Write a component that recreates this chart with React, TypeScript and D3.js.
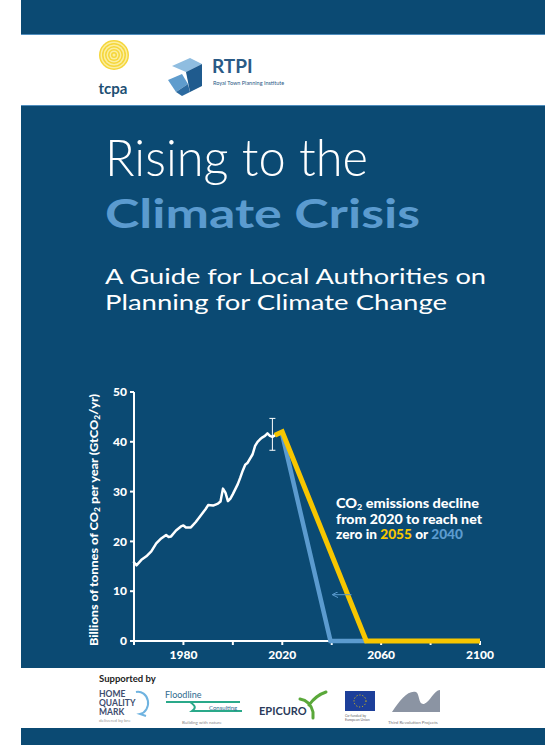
import React from 'react';
import * as d3 from 'd3';

// Historic global CO2 emissions
const histYears = [1960, 1961, 1963, 1965, 1967, 1969, 1971, 1973, 1974, 1975, 1977, 1979, 1980, 1981, 1983, 1985, 1987, 1989, 1990, 1992, 1994, 1995, 1996, 1997, 1998, 1999, 2000, 2002, 2003, 2004, 2005, 2006, 2008, 2009, 2010, 2011, 2012, 2013, 2014, 2015, 2016, 2017];
const histValues = [15.8, 15.2, 16.3, 17.0, 18.0, 19.6, 20.6, 21.3, 20.9, 21.0, 22.2, 23.0, 23.2, 22.8, 22.8, 23.9, 25.2, 26.5, 27.3, 27.2, 27.6, 28.0, 30.6, 29.8, 28.1, 28.6, 29.5, 31.5, 32.8, 34.2, 35.4, 35.8, 37.5, 39.2, 40.0, 40.5, 40.9, 41.2, 41.7, 41.2, 41.0, 41.3];

// Pathways to net zero
const path2055Years = [2017, 2020, 2054, 2100];
const path2055Values = [41.3, 42.0, 0, 0];
const path2040Years = [2020, 2039.5, 2054];
const path2040Values = [41.4, 0, 0];

const errYear = 2016;
const errLow = 38.3;
const errHigh = 44.7;

const arrowYears = [2048, 2040.6];
const arrowValue = 9.3;

const yTicks = [0, 10, 20, 30, 40, 50];
const xTicks = [1960, 1980, 2000, 2020, 2040, 2060, 2080, 2100];
const xLabels = [1980, 2020, 2060, 2100];

const NAVY = '#0b4a73';
const YELLOW = '#f7c600';
const LIGHTBLUE = '#5b9bcf';
const FONT = 'Lato, "DejaVu Sans", sans-serif';

const W = 545;
const H = 745;

const App: React.FC = () => {
  const x = d3.scaleLinear().domain([1960, 2100]).range([134, 480]);
  const y = d3.scaleLinear().domain([0, 50]).range([641, 392]);

  const line = d3.line<[number, number]>()
    .x(d => x(d[0]))
    .y(d => y(d[1]))
    .curve(d3.curveLinear);

  const hist = histYears.map((yr, i) => [yr, histValues[i]] as [number, number]);
  const p2055 = path2055Years.map((yr, i) => [yr, path2055Values[i]] as [number, number]);
  const p2040 = path2040Years.map((yr, i) => [yr, path2040Values[i]] as [number, number]);

  const rings = d3.range(15, 0, -1.5);

  return (
    <div style={{ position: 'absolute', left: 0, top: 0 }}>
      <svg width={W} height={H} style={{ display: 'block' }}>
        <defs>
          <marker id="arrowhead" markerWidth="6" markerHeight="6" refX="5" refY="3" orient="auto" markerUnits="userSpaceOnUse">
            <path d="M0,0 L6,3 L0,6" fill="none" stroke={LIGHTBLUE} strokeWidth={1} />
          </marker>
        </defs>
        <rect x={0} y={0} width={W} height={H} fill="#ffffff" />

        {/* cover bands */}
        <rect x={21} y={0} width={W - 21} height={34} fill={NAVY} />
        <rect x={21} y={34} width={W - 21} height={1} fill="#4f8dbd" />
        <rect x={21} y={106} width={W - 21} height={562} fill={NAVY} />
        <rect x={21} y={105} width={W - 21} height={1} fill="#4f8dbd" />
        <rect x={21} y={728} width={W - 21} height={17} fill={NAVY} />

        {/* tcpa logo */}
        <g>
          {rings.map((r, i) => (
            <circle key={r} cx={114} cy={55} r={r} fill={i % 2 === 0 ? '#f5d63a' : '#fbeea0'} />
          ))}
          <text x={113} y={94} textAnchor="middle" fontFamily={FONT} fontWeight={700} fontSize={15} fill="#1d4f73">tcpa</text>
        </g>

        {/* RTPI logo */}
        <g>
          <polygon points="172,66 190,58 202,64 186,72" fill="#8fbde0" />
          <polygon points="186,72 202,64 202,86 190,92" fill="#1f5b8e" />
          <polygon points="168,80 182,74 188,84 176,92" fill="#5f9ccd" />
          <polygon points="176,92 188,84 190,92 182,96" fill="#2c6aa0" />
          <text x={212} y={73} fontFamily={FONT} fontWeight={700} fontSize={19} fill="#2a5a86">RTPI</text>
          <text x={213} y={85} fontFamily={FONT} fontSize={5.5} fill="#2a5a86">Royal Town Planning Institute</text>
        </g>

        {/* titles */}
        <text x={105} y={176} fontFamily={FONT} fontWeight={300} fontSize={52} fill="#ffffff" textLength={263} lengthAdjust="spacingAndGlyphs">Rising to the</text>
        <text x={105} y={228} fontFamily={FONT} fontWeight={700} fontSize={41} fill={LIGHTBLUE} textLength={315} lengthAdjust="spacingAndGlyphs">Climate Crisis</text>
        <text x={105} y={284} fontFamily={FONT} fontSize={21} fill="#ffffff" textLength={381} lengthAdjust="spacingAndGlyphs">A Guide for Local Authorities on</text>
        <text x={105} y={310} fontFamily={FONT} fontSize={21} fill="#ffffff" textLength={342} lengthAdjust="spacingAndGlyphs">Planning for Climate Change</text>

        {/* axes */}
        <g stroke="#ffffff" strokeWidth={2} fill="none">
          <line x1={x(1960)} x2={x(1960)} y1={y(0)} y2={y(50)} />
          <line x1={x(1960)} x2={x(2100)} y1={y(0)} y2={y(0)} />
          {yTicks.map(t => (
            <line key={t} x1={x(1960) - 4} x2={x(1960)} y1={y(t)} y2={y(t)} />
          ))}
          {xTicks.map(t => (
            <line key={t} x1={x(t)} x2={x(t)} y1={y(0)} y2={y(0) + 4} />
          ))}
        </g>
        <g fontFamily={FONT} fontWeight={900} fontSize={12} fill="#ffffff">
          {yTicks.map(t => (
            <text key={t} x={x(1960) - 7} y={y(t)} dy="0.35em" textAnchor="end">{t}</text>
          ))}
          {xLabels.map(t => (
            <text key={t} x={x(t)} y={y(0) + 18} textAnchor="middle">{t}</text>
          ))}
        </g>
        <text transform="translate(98,520) rotate(-90)" textAnchor="middle" fontFamily={FONT} fontWeight={900} fontSize={10.5} fill="#ffffff" textLength={252} lengthAdjust="spacingAndGlyphs">
          Billions of tonnes of CO<tspan fontSize={7} dy={2}>2</tspan><tspan dy={-2}> per year (GtCO</tspan><tspan fontSize={7} dy={2}>2</tspan><tspan dy={-2}>/yr)</tspan>
        </text>

        {/* data lines */}
        <path d={line(hist) ?? ''} fill="none" stroke="#ffffff" strokeWidth={2.5} strokeLinejoin="round" strokeLinecap="round" />
        <path d={line(p2040) ?? ''} fill="none" stroke={LIGHTBLUE} strokeWidth={4.5} strokeLinejoin="miter" />
        <path d={line(p2055) ?? ''} fill="none" stroke={YELLOW} strokeWidth={5} strokeLinejoin="miter" />

        {/* uncertainty bar */}
        <g stroke="#ffffff" strokeWidth={1}>
          <line x1={x(errYear)} x2={x(errYear)} y1={y(errLow)} y2={y(errHigh)} />
          <line x1={x(errYear) - 3} x2={x(errYear) + 3} y1={y(errLow)} y2={y(errLow)} />
          <line x1={x(errYear) - 3} x2={x(errYear) + 3} y1={y(errHigh)} y2={y(errHigh)} />
        </g>

        {/* shift arrow */}
        <line x1={x(arrowYears[0])} x2={x(arrowYears[1])} y1={y(arrowValue)} y2={y(arrowValue)} stroke={LIGHTBLUE} strokeWidth={1} markerEnd="url(#arrowhead)" />

        {/* annotation */}
        <g fontFamily={FONT} fontWeight={900} fontSize={13} fill="#ffffff">
          <text x={336} y={508} textLength={143} lengthAdjust="spacingAndGlyphs">CO<tspan fontSize={8} dy={2}>2</tspan><tspan dy={-2}> emissions decline</tspan></text>
          <text x={336} y={524} textLength={146} lengthAdjust="spacingAndGlyphs">from 2020 to reach net</text>
          <text x={336} y={539} textLength={127} lengthAdjust="spacingAndGlyphs">zero in <tspan fill={YELLOW}>2055</tspan> or <tspan fill={LIGHTBLUE}>2040</tspan></text>
        </g>

        {/* supporters strip */}
        <g fontFamily={FONT}>
          <text x={99} y={682} fontSize={9.5} fontWeight={700} fill="#222">Supported by</text>
          <g fontSize={8.5} fontWeight={700} fill="#3d4d6e">
            <text x={99} y={697}>HOME</text>
            <text x={99} y={706}>QUALITY</text>
            <text x={99} y={715}>MARK</text>
          </g>
          <path d="M136,692 A9,10 0 1 1 140,714 L146,716" fill="none" stroke="#6fb3e0" strokeWidth={2} />
          <text x={99} y={722} fontSize={4.5} fill="#999">delivered by bre</text>

          <text x={165} y={698} fontSize={9} fill="#2f6b8f">Floodline</text>
          <path d="M166,702 L240,702 M190,702 C196,706 196,708 192,711 L242,711" fill="none" stroke="#2aa98a" strokeWidth={2} />
          <text x={209} y={710} fontSize={6} fill="#2f6b8f">Consulting</text>
          <text x={182} y={724} fontSize={4.5} fill="#888">Building with nature</text>

          <text x={259} y={715} fontSize={11} fontWeight={700} fill="#2a3a5a">EPICURO</text>
          <path d="M309,705 C314,698 320,694 326,692 M313,712 C311,704 306,700 300,699 M313,712 L313,718" fill="none" stroke="#5aa83a" strokeWidth={3} strokeLinecap="round" />

          <rect x={345} y={691} width={30} height={20} fill="#1d3f9a" />
          <circle cx={360} cy={701} r={6} fill="none" stroke="#f7d000" strokeWidth={1} strokeDasharray="1 2" />
          <text x={345} y={717} fontSize={3.5} fill="#666">Co-funded by</text>
          <text x={345} y={721} fontSize={3.5} fill="#666">European Union</text>

          <path d="M392,712 C400,700 408,690 416,692 C420,694 418,705 424,704 C430,702 434,690 440,690 L440,712 Z" fill="#8b94a3" />
          <text x={388} y={724} fontSize={4.5} fill="#777">Third Revolution Projects</text>
        </g>
      </svg>
    </div>
  );
};

export default App;
